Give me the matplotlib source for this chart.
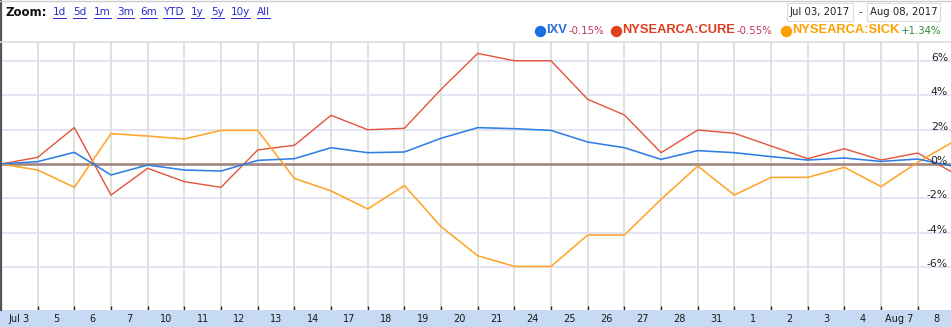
import matplotlib
matplotlib.use("Agg")
import matplotlib.pyplot as plt
from matplotlib.lines import Line2D
from matplotlib.patches import Rectangle

# ---------------- data ----------------
x_labels = ["Jul 3", "5", "6", "7", "10", "11", "12", "13", "14", "17", "18", "19",
            "20", "21", "24", "25", "26", "27", "28", "31", "1", "2", "3", "4",
            "Aug 7", "8"]
ixv = [0, 0.14, 0.68, -0.64, -0.06, -0.35, -0.41, 0.21, 0.31, 0.95, 0.66, 0.70,
       1.50, 2.12, 2.06, 1.96, 1.28, 0.95, 0.27, 0.78, 0.66, 0.43, 0.23, 0.35,
       0.15, 0.29, -0.15]
cure = [0, 0.39, 2.12, -1.81, -0.25, -1.03, -1.36, 0.82, 1.09, 2.84, 2.00, 2.08,
        4.35, 6.45, 6.02, 6.02, 3.77, 2.86, 0.66, 1.98, 1.79, 1.05, 0.31, 0.89,
        0.23, 0.64, -0.55]
sick = [0, -0.35, -1.36, 1.77, 1.63, 1.46, 1.96, 1.96, -0.84, -1.57, -2.62, -1.26,
        -3.65, -5.35, -5.97, -5.97, -4.14, -4.14, -2.06, -0.12, -1.81, -0.78, -0.78,
        -0.19, -1.32, 0.10, 1.34]
series_names = ["IXV", "NYSEARCA:CURE", "NYSEARCA:SICK"]
series_changes = ["-0.15%", "-0.55%", "+1.34%"]
y_ticks = [-6, -4, -2, 0, 2, 4, 6]
zoom_links = ["1d", "5d", "1m", "3m", "6m", "YTD", "1y", "5y", "10y", "All"]
date_from = "Jul 03, 2017"
date_to = "Aug 08, 2017"

# ---------------- style ----------------
W, H = 951, 327
c_blue = "#2f7fe4"
c_red = "#e5533a"
c_orange = "#ffa52a"
dot_blue = "#1a6ee0"
dot_red = "#e0401c"
dot_orange = "#ffa000"

fig = plt.figure(figsize=(W / 100, H / 100), dpi=100)
fig.patch.set_facecolor("white")

def fx(px):
    return px / W

def fy(py):
    return 1 - py / H

ax_left, ax_right, ax_top, ax_bottom = 1, 951, 42, 310
ax = fig.add_axes([fx(ax_left), fy(ax_bottom), fx(ax_right - ax_left), (ax_bottom - ax_top) / H])
ax.set_facecolor("white")

n = len(ixv)
xs = list(range(n))
xmax = 950 / 36.67
ax.set_xlim(0, xmax)
ppu = 34.3 / 2
ax.set_ylim(-(ax_bottom - 164) / ppu, (164 - ax_top) / ppu)

# grid
for v in y_ticks:
    if v != 0:
        ax.axhline(v, color="#dfdff3", lw=1.2, zorder=1)
for i in range(1, len(x_labels)):
    ax.axvline(i, color="#dde2dd", lw=1.4, zorder=1)
ax.axhline(0, color="#a2867d", lw=1.9, zorder=2)

ax.plot(xs, ixv, color=c_blue, lw=1.15, zorder=4)
ax.plot(xs, cure, color=c_red, lw=1.0, zorder=3)
ax.plot(xs, sick, color=c_orange, lw=1.15, zorder=3)

for v in y_ticks:
    ax.text(xmax - 0.08, v, f"{v}%", ha="right", va="baseline", fontsize=7.8,
            color="#222222", zorder=6, family="DejaVu Sans")

ax.set_xticks(range(1, len(x_labels)))
ax.set_xticklabels([])
ax.set_yticks([])
ax.tick_params(axis="x", direction="in", length=3.2, width=1.0, color="#222222")
for s in ["top", "right", "left", "bottom"]:
    ax.spines[s].set_visible(False)

# bottom band
fig.patches.append(Rectangle((0, 0), 1, fy(310), transform=fig.transFigure,
                             facecolor="#c6dbf3", edgecolor="none", zorder=0))
for i, lab in enumerate(x_labels):
    px = ax_left + (i + 0.5) * 36.67
    fig.text(fx(px), fy(318.5), lab, ha="center", va="center", fontsize=7,
             color="#1a1a1a")

# borders
fig.add_artist(Line2D([fx(1), fx(1)], [fy(310), 1], color="#555555", lw=1.6))
fig.add_artist(Line2D([0, 1], [fy(0.5), fy(0.5)], color="#cccccc", lw=1.0))
fig.add_artist(Line2D([0, 1], [fy(42), fy(42)], color="#dddddd", lw=1.2))

# zoom links
fig.text(fx(5), fy(12), "Zoom:", fontsize=8.5, fontweight="bold", color="#111111",
         va="center", ha="left", family="DejaVu Sans")
link_x = [53, 73, 94, 117, 140, 163, 191, 211, 231, 257]
link_texts = []
for lx, lab in zip(link_x, zoom_links):
    t = fig.text(fx(lx), fy(12), lab, fontsize=7.5, color="#2a2ad0", va="center",
                 ha="left", family="DejaVu Sans")
    link_texts.append(t)

# date boxes
for (x0, x1), lab in zip([(787, 853), (867, 940)], [date_from, date_to]):
    fig.patches.append(Rectangle((fx(x0), fy(21)), fx(x1 - x0), (21 - 3) / H,
                                 transform=fig.transFigure, facecolor="white",
                                 edgecolor="#dddddd", lw=0.8))
    fig.text(fx((x0 + x1) / 2), fy(12), lab, fontsize=7.3, color="#222222",
             ha="center", va="center", family="DejaVu Sans")
fig.text(fx(860), fy(12), "-", fontsize=7.5, color="#333333", ha="center", va="center")

# legend
leg = [
    (540, series_names[0], series_changes[0], dot_blue, "#2a6fe0", "#c8345a"),
    (616, series_names[1], series_changes[1], dot_red, "#de3b1c", "#c8345a"),
    (786, series_names[2], series_changes[2], dot_orange, "#ffa000", "#2e8b3a"),
]
fig.canvas.draw()
renderer = fig.canvas.get_renderer()
for cx, name, chg, dcol, tcol, ccol in leg:
    fig.add_artist(Line2D([fx(cx)], [fy(31)], marker="o", markersize=8.2,
                          color=dcol, markeredgewidth=0))
    t = fig.text(fx(cx + 6), fy(30), name, fontsize=9.3, fontweight="bold",
                 color=tcol, ha="left", va="center", family="Liberation Sans")
    bb = t.get_window_extent(renderer)
    fig.text(bb.x1 / W + fx(2), fy(31), chg, fontsize=7.3, color=ccol, ha="left",
             va="center", family="DejaVu Sans")

for t in link_texts:
    bb = t.get_window_extent(renderer)
    fig.add_artist(Line2D([bb.x0 / W, bb.x1 / W], [fy(17.5), fy(17.5)],
                          color="#2a2ad0", lw=0.7))

fig.savefig("out.png", dpi=100, facecolor="white")
